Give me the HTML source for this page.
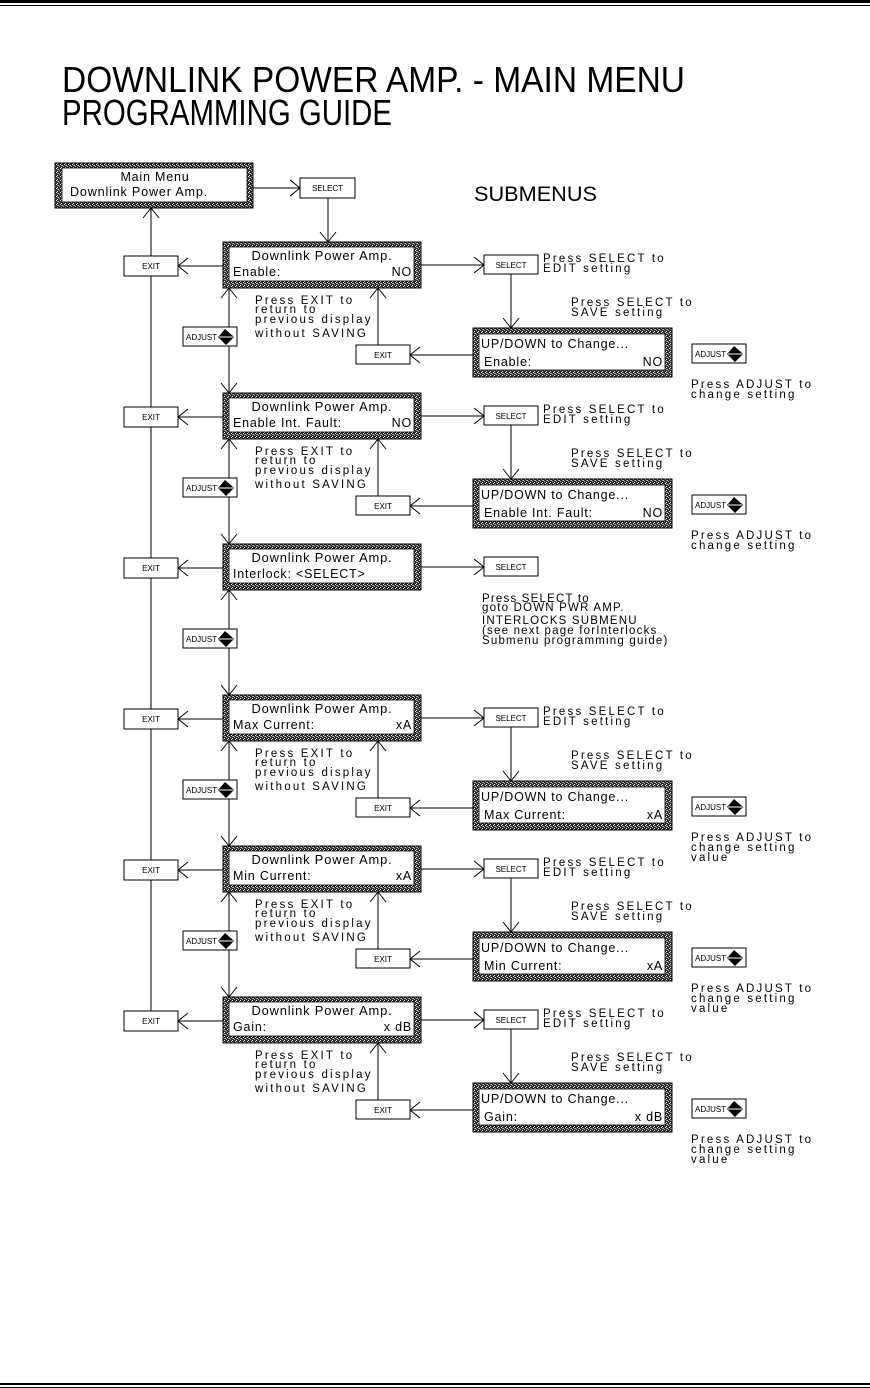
<!DOCTYPE html>
<html><head><meta charset="utf-8"><style>
html,body{margin:0;padding:0;background:#fff;}
svg{display:block;}
text{font-family:"Liberation Sans",sans-serif;fill:#000;}
.t{font-size:11.5px;letter-spacing:2.2px;}
.b{font-size:8px;}
.d{font-size:12.5px;letter-spacing:0.8px;}
</style></head><body>
<svg width="870" height="1388" viewBox="0 0 870 1388" xmlns="http://www.w3.org/2000/svg">
<defs>
<marker id="ah" markerUnits="userSpaceOnUse" markerWidth="14" markerHeight="20" viewBox="-11 -10 14 20" refX="0" refY="0" orient="auto">
<path d="M-10,-8 L0,0 L-10,8" fill="none" stroke="#000" stroke-width="1"/>
</marker>
<pattern id="spk" width="4" height="4" patternUnits="userSpaceOnUse">
<rect width="4" height="4" fill="#2a2a2a"/>
<rect x="0" y="0" width="1" height="1" fill="#eee"/>
<rect x="2" y="1" width="1" height="1" fill="#ccc"/>
<rect x="1" y="3" width="1" height="1" fill="#fff"/>
<rect x="3" y="2" width="1" height="1" fill="#aaa"/>
<rect x="1" y="1" width="1" height="1" fill="#888"/>
</pattern>
<g id="adj">
<rect x="0" y="0" width="54" height="19" fill="#fff" stroke="#000"/>
<text x="3" y="13" class="b">ADJUST</text>
<path d="M36,9 L42,2 L50,9 Z M36,11 L50,11 L43,18 Z" fill="#000"/>
<line x1="35" y1="10" x2="51" y2="10" stroke="#000"/>
</g>
<g id="disp">
<rect x="0" y="0" width="198" height="46" fill="url(#spk)" stroke="#000"/>
<rect x="6" y="5" width="185" height="34" fill="#fff" stroke="#000" stroke-width="0.8"/>
</g>
<g id="edisp">
<rect x="0" y="0" width="199" height="49" fill="url(#spk)" stroke="#000"/>
<rect x="6" y="6" width="186" height="36" fill="#fff" stroke="#000" stroke-width="0.8"/>
</g>
</defs>

<rect x="0" y="0" width="870" height="3" fill="#000"/>
<rect x="0" y="5" width="870" height="1" fill="#000"/>
<rect x="0" y="1383" width="870" height="2" fill="#000"/>
<rect x="0" y="1387" width="870" height="1" fill="#000"/>

<text x="62" y="92" style="font-size:36px" textLength="623" lengthAdjust="spacingAndGlyphs">DOWNLINK POWER AMP. - MAIN MENU</text>
<text x="62" y="125" style="font-size:36px" textLength="330" lengthAdjust="spacingAndGlyphs">PROGRAMMING GUIDE</text>
<text x="474" y="201" style="font-size:21px" textLength="123" lengthAdjust="spacingAndGlyphs">SUBMENUS</text>

<rect x="55" y="163" width="198" height="45" fill="url(#spk)" stroke="#000"/>
<rect x="62" y="168" width="185" height="34" fill="#fff" stroke="#000" stroke-width="0.8"/>
<text x="155" y="181" class="d" text-anchor="middle">Main Menu</text>
<text x="70" y="196" class="d" textLength="138" lengthAdjust="spacingAndGlyphs">Downlink Power Amp.</text>
<line x1="253" y1="188" x2="300" y2="188" stroke="#000" marker-end="url(#ah)"/>
<rect x="300" y="178" width="55" height="20" fill="#fff" stroke="#000"/>
<text x="327.5" y="191" class="b" text-anchor="middle">SELECT</text>
<line x1="328" y1="198" x2="328" y2="242" stroke="#000" marker-end="url(#ah)"/>

<line x1="151" y1="1013" x2="151" y2="208" stroke="#000" marker-end="url(#ah)"/>

<!-- ROW 1 -->
<g transform="translate(0,0)">
<use href="#disp" x="223" y="242"/>
<text x="322" y="260" class="d" text-anchor="middle" textLength="141" lengthAdjust="spacingAndGlyphs">Downlink Power Amp.</text>
<text x="233" y="276" class="d">Enable:</text><text x="412" y="276" class="d" text-anchor="end">NO</text>
<line x1="223" y1="266" x2="178" y2="266" stroke="#000" marker-end="url(#ah)"/>
<rect x="124" y="256" width="54" height="20" fill="#fff" stroke="#000"/><text x="151" y="269" class="b" text-anchor="middle">EXIT</text>
<line x1="421" y1="265" x2="484" y2="265" stroke="#000" marker-end="url(#ah)"/>
<rect x="484" y="255" width="54" height="19" fill="#fff" stroke="#000"/><text x="511" y="268" class="b" text-anchor="middle">SELECT</text>
<text x="543" y="262" class="t">Press SELECT to</text><text x="543" y="272" class="t">EDIT setting</text>
<line x1="511" y1="274" x2="511" y2="328" stroke="#000" marker-end="url(#ah)"/>
<text x="571" y="306" class="t">Press SELECT to</text><text x="571" y="316" class="t">SAVE setting</text>
<use href="#edisp" x="473" y="328"/>
<text x="481" y="348" class="d">UP/DOWN to Change...</text>
<text x="484" y="366" class="d">Enable:</text><text x="663" y="366" class="d" text-anchor="end">NO</text>
<line x1="473" y1="355" x2="410" y2="355" stroke="#000" marker-end="url(#ah)"/>
<rect x="356" y="345" width="54" height="19" fill="#fff" stroke="#000"/><text x="383" y="358" class="b" text-anchor="middle">EXIT</text>
<line x1="378" y1="345" x2="378" y2="288" stroke="#000" marker-end="url(#ah)"/>
<text x="255" y="304" class="t">Press EXIT to</text><text x="255" y="313" class="t">return to</text><text x="255" y="323" class="t">previous display</text><text x="255" y="337" class="t">without SAVING</text>
<use href="#adj" x="692" y="344"/>
<text x="691" y="388" class="t">Press ADJUST to</text><text x="691" y="398" class="t">change setting</text>
<line x1="229" y1="327" x2="229" y2="288" stroke="#000" marker-end="url(#ah)"/>
<line x1="229" y1="346" x2="229" y2="393" stroke="#000" marker-end="url(#ah)"/>
<use href="#adj" x="183" y="327"/>
</g>

<!-- ROW 2 -->
<g transform="translate(0,151)">
<use href="#disp" x="223" y="242"/>
<text x="322" y="260" class="d" text-anchor="middle" textLength="141" lengthAdjust="spacingAndGlyphs">Downlink Power Amp.</text>
<text x="233" y="276" class="d">Enable Int. Fault:</text><text x="412" y="276" class="d" text-anchor="end">NO</text>
<line x1="223" y1="266" x2="178" y2="266" stroke="#000" marker-end="url(#ah)"/>
<rect x="124" y="256" width="54" height="20" fill="#fff" stroke="#000"/><text x="151" y="269" class="b" text-anchor="middle">EXIT</text>
<line x1="421" y1="265" x2="484" y2="265" stroke="#000" marker-end="url(#ah)"/>
<rect x="484" y="255" width="54" height="19" fill="#fff" stroke="#000"/><text x="511" y="268" class="b" text-anchor="middle">SELECT</text>
<text x="543" y="262" class="t">Press SELECT to</text><text x="543" y="272" class="t">EDIT setting</text>
<line x1="511" y1="274" x2="511" y2="328" stroke="#000" marker-end="url(#ah)"/>
<text x="571" y="306" class="t">Press SELECT to</text><text x="571" y="316" class="t">SAVE setting</text>
<use href="#edisp" x="473" y="328"/>
<text x="481" y="348" class="d">UP/DOWN to Change...</text>
<text x="484" y="366" class="d">Enable Int. Fault:</text><text x="663" y="366" class="d" text-anchor="end">NO</text>
<line x1="473" y1="355" x2="410" y2="355" stroke="#000" marker-end="url(#ah)"/>
<rect x="356" y="345" width="54" height="19" fill="#fff" stroke="#000"/><text x="383" y="358" class="b" text-anchor="middle">EXIT</text>
<line x1="378" y1="345" x2="378" y2="288" stroke="#000" marker-end="url(#ah)"/>
<text x="255" y="304" class="t">Press EXIT to</text><text x="255" y="313" class="t">return to</text><text x="255" y="323" class="t">previous display</text><text x="255" y="337" class="t">without SAVING</text>
<use href="#adj" x="692" y="344"/>
<text x="691" y="388" class="t">Press ADJUST to</text><text x="691" y="398" class="t">change setting</text>
<line x1="229" y1="327" x2="229" y2="288" stroke="#000" marker-end="url(#ah)"/>
<line x1="229" y1="346" x2="229" y2="393" stroke="#000" marker-end="url(#ah)"/>
<use href="#adj" x="183" y="327"/>
</g>

<!-- ROW 3 -->
<g transform="translate(0,302)">
<use href="#disp" x="223" y="242"/>
<text x="322" y="260" class="d" text-anchor="middle" textLength="141" lengthAdjust="spacingAndGlyphs">Downlink Power Amp.</text>
<text x="233" y="276" class="d">Interlock: &lt;SELECT&gt;</text>
<line x1="223" y1="266" x2="178" y2="266" stroke="#000" marker-end="url(#ah)"/>
<rect x="124" y="256" width="54" height="20" fill="#fff" stroke="#000"/><text x="151" y="269" class="b" text-anchor="middle">EXIT</text>
<line x1="421" y1="265" x2="484" y2="265" stroke="#000" marker-end="url(#ah)"/>
<rect x="484" y="255" width="54" height="19" fill="#fff" stroke="#000"/><text x="511" y="268" class="b" text-anchor="middle">SELECT</text>
<text x="482" y="300" class="t" style="letter-spacing:1.2px">Press SELECT to</text>
<text x="482" y="309" class="t" style="letter-spacing:1.2px">goto DOWN PWR AMP.</text>
<text x="482" y="322" class="t" style="letter-spacing:1.2px">INTERLOCKS SUBMENU</text>
<text x="482" y="332" class="t" style="letter-spacing:1.2px">(see next page forInterlocks</text>
<text x="482" y="342" class="t" style="letter-spacing:1.2px">Submenu programming guide)</text>
<line x1="229" y1="327" x2="229" y2="288" stroke="#000" marker-end="url(#ah)"/>
<line x1="229" y1="346" x2="229" y2="393" stroke="#000" marker-end="url(#ah)"/>
<use href="#adj" x="183" y="327"/>
</g>

<!-- ROW 4 -->
<g transform="translate(0,453)">
<use href="#disp" x="223" y="242"/>
<text x="322" y="260" class="d" text-anchor="middle" textLength="141" lengthAdjust="spacingAndGlyphs">Downlink Power Amp.</text>
<text x="233" y="276" class="d">Max Current:</text><text x="412" y="276" class="d" text-anchor="end">xA</text>
<line x1="223" y1="266" x2="178" y2="266" stroke="#000" marker-end="url(#ah)"/>
<rect x="124" y="256" width="54" height="20" fill="#fff" stroke="#000"/><text x="151" y="269" class="b" text-anchor="middle">EXIT</text>
<line x1="421" y1="265" x2="484" y2="265" stroke="#000" marker-end="url(#ah)"/>
<rect x="484" y="255" width="54" height="19" fill="#fff" stroke="#000"/><text x="511" y="268" class="b" text-anchor="middle">SELECT</text>
<text x="543" y="262" class="t">Press SELECT to</text><text x="543" y="272" class="t">EDIT setting</text>
<line x1="511" y1="274" x2="511" y2="328" stroke="#000" marker-end="url(#ah)"/>
<text x="571" y="306" class="t">Press SELECT to</text><text x="571" y="316" class="t">SAVE setting</text>
<use href="#edisp" x="473" y="328"/>
<text x="481" y="348" class="d">UP/DOWN to Change...</text>
<text x="484" y="366" class="d">Max Current:</text><text x="663" y="366" class="d" text-anchor="end">xA</text>
<line x1="473" y1="355" x2="410" y2="355" stroke="#000" marker-end="url(#ah)"/>
<rect x="356" y="345" width="54" height="19" fill="#fff" stroke="#000"/><text x="383" y="358" class="b" text-anchor="middle">EXIT</text>
<line x1="378" y1="345" x2="378" y2="288" stroke="#000" marker-end="url(#ah)"/>
<text x="255" y="304" class="t">Press EXIT to</text><text x="255" y="313" class="t">return to</text><text x="255" y="323" class="t">previous display</text><text x="255" y="337" class="t">without SAVING</text>
<use href="#adj" x="692" y="344"/>
<text x="691" y="388" class="t">Press ADJUST to</text><text x="691" y="398" class="t">change setting</text><text x="691" y="408" class="t">value</text>
<line x1="229" y1="327" x2="229" y2="288" stroke="#000" marker-end="url(#ah)"/>
<line x1="229" y1="346" x2="229" y2="393" stroke="#000" marker-end="url(#ah)"/>
<use href="#adj" x="183" y="327"/>
</g>

<!-- ROW 5 -->
<g transform="translate(0,604)">
<use href="#disp" x="223" y="242"/>
<text x="322" y="260" class="d" text-anchor="middle" textLength="141" lengthAdjust="spacingAndGlyphs">Downlink Power Amp.</text>
<text x="233" y="276" class="d">Min Current:</text><text x="412" y="276" class="d" text-anchor="end">xA</text>
<line x1="223" y1="266" x2="178" y2="266" stroke="#000" marker-end="url(#ah)"/>
<rect x="124" y="256" width="54" height="20" fill="#fff" stroke="#000"/><text x="151" y="269" class="b" text-anchor="middle">EXIT</text>
<line x1="421" y1="265" x2="484" y2="265" stroke="#000" marker-end="url(#ah)"/>
<rect x="484" y="255" width="54" height="19" fill="#fff" stroke="#000"/><text x="511" y="268" class="b" text-anchor="middle">SELECT</text>
<text x="543" y="262" class="t">Press SELECT to</text><text x="543" y="272" class="t">EDIT setting</text>
<line x1="511" y1="274" x2="511" y2="328" stroke="#000" marker-end="url(#ah)"/>
<text x="571" y="306" class="t">Press SELECT to</text><text x="571" y="316" class="t">SAVE setting</text>
<use href="#edisp" x="473" y="328"/>
<text x="481" y="348" class="d">UP/DOWN to Change...</text>
<text x="484" y="366" class="d">Min Current:</text><text x="663" y="366" class="d" text-anchor="end">xA</text>
<line x1="473" y1="355" x2="410" y2="355" stroke="#000" marker-end="url(#ah)"/>
<rect x="356" y="345" width="54" height="19" fill="#fff" stroke="#000"/><text x="383" y="358" class="b" text-anchor="middle">EXIT</text>
<line x1="378" y1="345" x2="378" y2="288" stroke="#000" marker-end="url(#ah)"/>
<text x="255" y="304" class="t">Press EXIT to</text><text x="255" y="313" class="t">return to</text><text x="255" y="323" class="t">previous display</text><text x="255" y="337" class="t">without SAVING</text>
<use href="#adj" x="692" y="344"/>
<text x="691" y="388" class="t">Press ADJUST to</text><text x="691" y="398" class="t">change setting</text><text x="691" y="408" class="t">value</text>
<line x1="229" y1="327" x2="229" y2="288" stroke="#000" marker-end="url(#ah)"/>
<line x1="229" y1="346" x2="229" y2="393" stroke="#000" marker-end="url(#ah)"/>
<use href="#adj" x="183" y="327"/>
</g>

<!-- ROW 6 -->
<g transform="translate(0,755)">
<use href="#disp" x="223" y="242"/>
<text x="322" y="260" class="d" text-anchor="middle" textLength="141" lengthAdjust="spacingAndGlyphs">Downlink Power Amp.</text>
<text x="233" y="276" class="d">Gain:</text><text x="412" y="276" class="d" text-anchor="end">x dB</text>
<line x1="223" y1="266" x2="178" y2="266" stroke="#000" marker-end="url(#ah)"/>
<rect x="124" y="256" width="54" height="20" fill="#fff" stroke="#000"/><text x="151" y="269" class="b" text-anchor="middle">EXIT</text>
<line x1="421" y1="265" x2="484" y2="265" stroke="#000" marker-end="url(#ah)"/>
<rect x="484" y="255" width="54" height="19" fill="#fff" stroke="#000"/><text x="511" y="268" class="b" text-anchor="middle">SELECT</text>
<text x="543" y="262" class="t">Press SELECT to</text><text x="543" y="272" class="t">EDIT setting</text>
<line x1="511" y1="274" x2="511" y2="328" stroke="#000" marker-end="url(#ah)"/>
<text x="571" y="306" class="t">Press SELECT to</text><text x="571" y="316" class="t">SAVE setting</text>
<use href="#edisp" x="473" y="328"/>
<text x="481" y="348" class="d">UP/DOWN to Change...</text>
<text x="484" y="366" class="d">Gain:</text><text x="663" y="366" class="d" text-anchor="end">x dB</text>
<line x1="473" y1="355" x2="410" y2="355" stroke="#000" marker-end="url(#ah)"/>
<rect x="356" y="345" width="54" height="19" fill="#fff" stroke="#000"/><text x="383" y="358" class="b" text-anchor="middle">EXIT</text>
<line x1="378" y1="345" x2="378" y2="288" stroke="#000" marker-end="url(#ah)"/>
<text x="255" y="304" class="t">Press EXIT to</text><text x="255" y="313" class="t">return to</text><text x="255" y="323" class="t">previous display</text><text x="255" y="337" class="t">without SAVING</text>
<use href="#adj" x="692" y="344"/>
<text x="691" y="388" class="t">Press ADJUST to</text><text x="691" y="398" class="t">change setting</text><text x="691" y="408" class="t">value</text>
</g>
</svg>
</body></html>
